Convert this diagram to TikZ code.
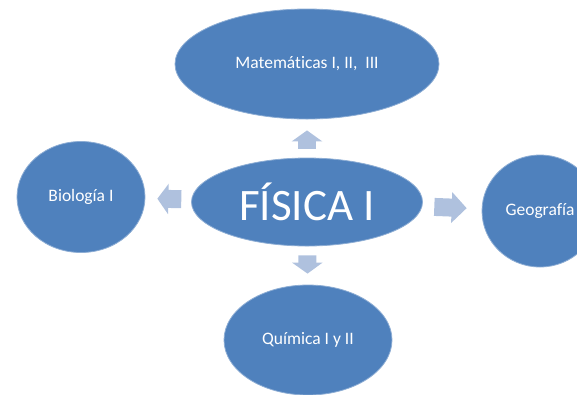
\documentclass[tikz,border=0pt]{standalone}
\usepackage{fontspec}
\setmainfont[Ligatures=NoCommon]{Carlito}
\usetikzlibrary{shapes.geometric,arrows.meta}
\definecolor{mainblue}{RGB}{79,129,189}
\definecolor{arrowblue}{RGB}{175,193,222}

\begin{document}
\begin{tikzpicture}[x=1bp,y=-1bp,
  topic/.style={ellipse,fill=mainblue,draw=white!35!mainblue,line width=0.8bp,inner sep=0pt,text=white,font=\fontsize{17.5bp}{20bp}\selectfont},
  flow/.style={draw=arrowblue,line width=18bp,-{Triangle[length=11bp,width=30bp]}}]
\useasboundingbox (0,0) rectangle (577,394);
\clip (0,0) rectangle (577,394);
\node[topic,minimum width=231bp,minimum height=88bp,font=\fontsize{45bp}{48bp}\selectfont] (fis) at (307,202) {FÍSICA I};
\node[topic,minimum width=264bp,minimum height=110bp] (mat) at (307,64) {Matemáticas I, II,\ \ III};
\node[topic,minimum width=128bp,minimum height=111bp] (bio) at (81,197) {Biología I};
\node[topic,minimum width=116bp,minimum height=112bp] (geo) at (540,211) {Geografía};
\node[topic,minimum width=168bp,minimum height=110bp] (qui) at (308,340) {Química I y II};
\draw[flow,shorten <=9bp,shorten >=11bp] (fis) -- (mat);
\draw[flow,shorten <=9bp,shorten >=11bp] (fis) -- (qui);
\draw[flow,shorten <=10bp,shorten >=12bp] (fis) -- (bio);
\draw[flow,shorten <=12bp,shorten >=15bp,-{Triangle[length=15bp,width=30bp]}] (fis) -- (geo);
\end{tikzpicture}
\end{document}
